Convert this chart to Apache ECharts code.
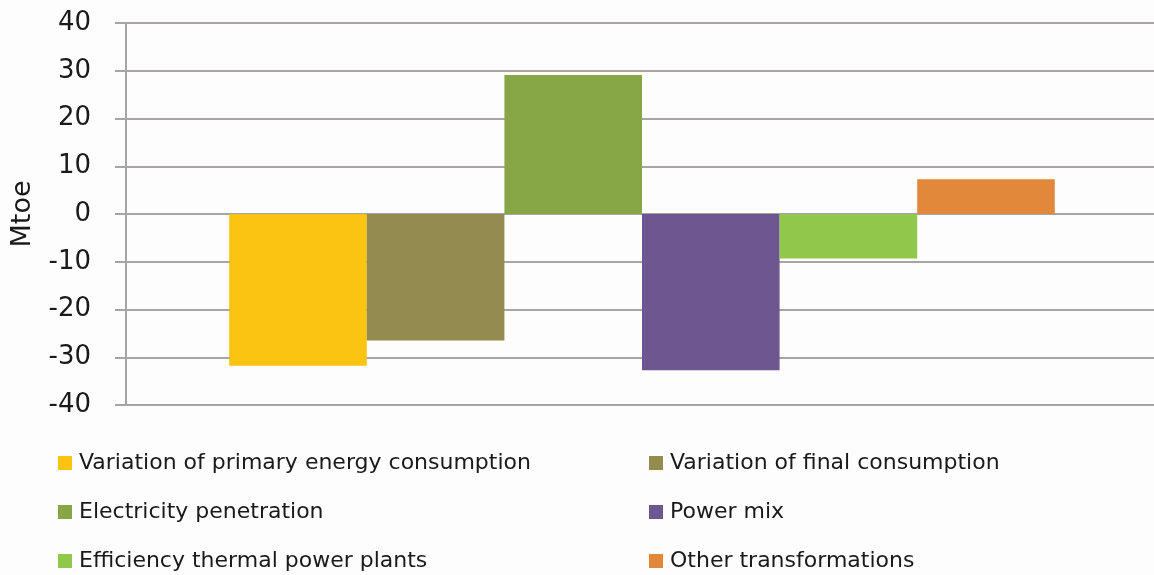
<!DOCTYPE html>
<html>
<head>
<meta charset="utf-8">
<script src="https://cdn.jsdelivr.net/npm/echarts@6/dist/echarts.min.js"></script>
<style>
html,body{margin:0;padding:0;background:#fdfdfd;}
#c{width:1154px;height:575px;}
</style>
</head>
<body>
<div id="c"></div>
<script>
var categories = ['Total'];
var seriesNames = [
  'Variation of primary energy consumption',
  'Variation of final consumption',
  'Electricity penetration',
  'Power mix',
  'Efficiency thermal power plants',
  'Other transformations'
];
var seriesValues = [-31.8, -26.5, 29.1, -32.7, -9.3, 7.3];
var seriesColors = ['#FCC412', '#948B4F', '#87A747', '#6E5691', '#91C74A', '#E1883A'];
var yTicks = { min: -40, max: 40, interval: 10 };

var series = seriesNames.map(function (n, i) {
  return {
    name: n,
    type: 'bar',
    data: [seriesValues[i]],
    itemStyle: { color: seriesColors[i] },
    barGap: '0%',
    barCategoryGap: '20%',
    animation: false
  };
});

var legendPos = [
  { left: 58, top: 451 }, { left: 649, top: 451 },
  { left: 58, top: 500 }, { left: 649, top: 500 },
  { left: 58, top: 549 }, { left: 649, top: 549 }
];
var legends = seriesNames.map(function (n, i) {
  return {
    data: [n],
    left: legendPos[i].left,
    top: legendPos[i].top,
    padding: 0,
    itemWidth: 14,
    itemHeight: 14,
    itemGap: 0,
    icon: 'rect',
    selectedMode: false,
    textStyle: { fontFamily: 'DejaVu Sans', fontSize: 22, color: '#1a1a1a', padding: [0, 0, 0, 2], lineHeight: 24 }
  };
});

var chart = echarts.init(document.getElementById('c'), null, { renderer: 'canvas' });
chart.setOption({
  backgroundColor: '#fdfdfd',
  animation: false,
  legend: legends,
  grid: { left: 126, width: 1032, top: 23, bottom: 170, outerBoundsMode: 'none' },
  xAxis: {
    type: 'category',
    data: categories,
    axisLine: { show: false },
    axisTick: { show: false },
    axisLabel: { show: false }
  },
  yAxis: {
    type: 'value',
    min: yTicks.min,
    max: yTicks.max,
    interval: yTicks.interval,
    name: 'Mtoe',
    nameLocation: 'middle',
    nameGap: 90,
    nameTextStyle: { fontFamily: 'DejaVu Sans', fontSize: 27, color: '#1a1a1a' },
    axisLine: { show: true, lineStyle: { color: '#a9a4a4', width: 2 } },
    axisTick: { show: true, length: 11, lineStyle: { color: '#a9a4a4', width: 2 } },
    splitLine: { show: true, lineStyle: { color: '#a9a4a4', width: 2 } },
    axisLabel: { fontFamily: 'DejaVu Sans', fontSize: 26, color: '#1a1a1a', margin: 35, padding: [6, 0, 0, 0] }
  },
  series: series
});
</script>
</body>
</html>
